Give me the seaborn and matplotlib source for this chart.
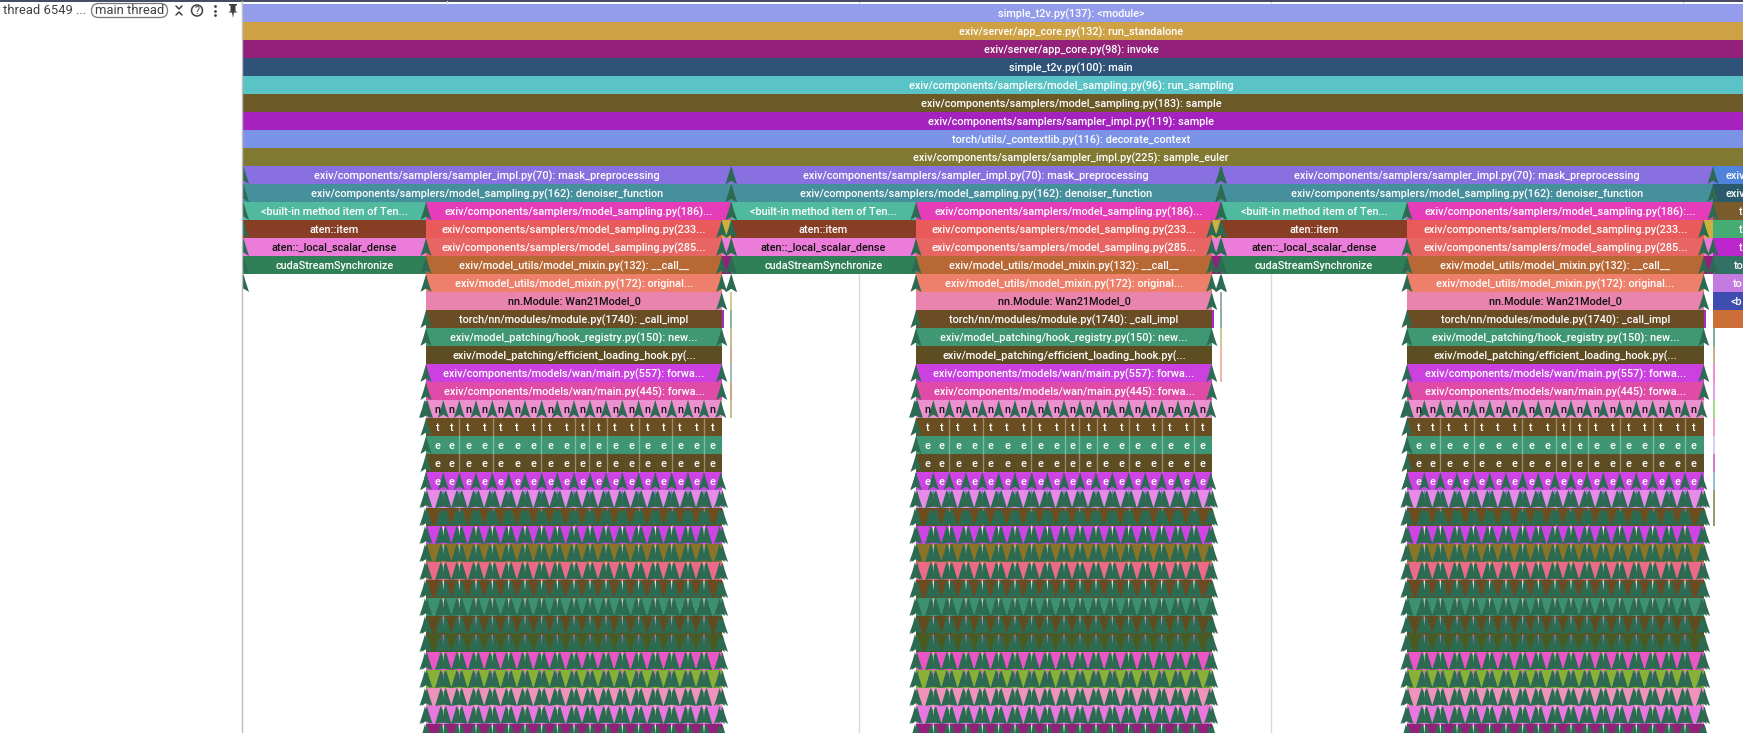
import numpy as np
import matplotlib
matplotlib.use('Agg')
import matplotlib.pyplot as plt
from matplotlib.path import Path
from matplotlib.markers import MarkerStyle
from matplotlib.patches import FancyBboxPatch, Circle, Polygon
import seaborn as sns

# whole trace rows at the top
top_labels = ['simple_t2v.py(137): <module>', 'exiv/server/app_core.py(132): run_standalone',
              'exiv/server/app_core.py(98): invoke', 'simple_t2v.py(100): main',
              'exiv/components/samplers/model_sampling.py(96): run_sampling',
              'exiv/components/samplers/model_sampling.py(183): sample',
              'exiv/components/samplers/sampler_impl.py(119): sample',
              'torch/utils/_contextlib.py(116): decorate_context',
              'exiv/components/samplers/sampler_impl.py(225): sample_euler']
top_colors = ['#939DEB', '#CDA144', '#93217B', '#2F5279', '#59C3C5', '#6B5A27', '#A622BF', '#7A93E6', '#817832']
top_start = 243
top_end = 1899

# one step = sampling part + item part
step_starts = [243, 731, 1221]
module_starts = [426, 916, 1407]
module_ends = [722, 1212, 1704]
step_ends = [731, 1221, 1713]

item_labels = ['<built-in method item of Ten...', 'aten::item', 'aten::_local_scalar_dense', 'cudaStreamSynchronize']
item_colors = ['#50BA9E', '#883D25', '#EC7CD9', '#308057']
item_text = ['white', 'white', '#111111', 'white']

module_labels = ['exiv/components/samplers/model_sampling.py(233...',
                 'exiv/components/samplers/model_sampling.py(285...',
                 'exiv/model_utils/model_mixin.py(132): __call__',
                 'exiv/model_utils/model_mixin.py(172): original...',
                 'nn.Module: Wan21Model_0',
                 'torch/nn/modules/module.py(1740): _call_impl',
                 'exiv/model_patching/hook_registry.py(150): new...',
                 'exiv/model_patching/efficient_loading_hook.py(...',
                 'exiv/components/models/wan/main.py(557): forwa...',
                 'exiv/components/models/wan/main.py(445): forwa...']
module_colors = ['#E95B5B', '#E76663', '#B86835', '#EE7F6B', '#E984AF', '#6A4D24', '#3F9873', '#5E4D22', '#CC40E0', '#E04BA8']

deep_colors = ['#EC90D0', '#694E22', '#3E9672', '#5E4C22', '#CE43E3', '#E88AE8', '#6D4D1E', '#CE44E4', '#8B7427',
               '#EA6A88', '#6D4B22', '#3D9070', '#5F4D21', '#4A5A20', '#E956C6', '#8BB038', '#EF93BD', '#E878E0', '#93217B']
deep_letters = ['n', 't', 'e', 'e', 'e']
letter_colors = ['#111111', 'white', 'white', 'white', 'white']

cell_offsets = [11.3, 25.7, 42, 58.3, 74.7, 91, 107.7, 124, 140.3, 156.7, 172.7, 189, 205.3, 221.3, 237.7, 254, 270.3, 286.7]
tree_offsets = [0, 17.3, 33.3, 50, 66.3, 82.7, 99, 115.7, 131.3, 148, 164, 180, 196.3, 212.7, 229.3, 245.7, 262, 278, 294.7]
divider_offsets = [33.3, 66.7, 115.3, 148.7, 163.3, 180.7, 212.7, 245.7, 278.3]

sliver_rows = [27, 29, 30, 31, 32, 33, 34, 35, 36, 37, 38, 39, 40]
sliver_colors = ['#5A78D0', 'white', '#E0C8A0', '#D0D0B0', 'white', '#E8D0C0', '#D8A0D0', '#D070C0', '#A8E8A8',
                 '#E070D0', '#E0C0D0', '#E0E0C0', 'white']

# the small leftovers between module end and next step
filler_rows = [12, 13, 14]
filler_colors = ['#CDB040', '#EC7CD9', '#93217B']
stripes_1 = ['#D0CE8A', '#8FB39D', '#CDBE90', '#C5B08F', '#A0BEB0', '#C5A880', '#C8BE90']
stripes_2 = ['#9DAAB8', '#8FB39D', '#CFCB90', '#F3B8A5', '#F3B8A5']
stripes_3 = ['#7FAE9A', '#C5B08F', '#EE8FC8', '#E6A0E8', '#A5DE8A', '#F0A0C8', '#D5D0F0', '#CE78D0', '#9DC0D0', '#9A9A70', '#9A9A70']

# the cut off step on the right edge
last_colors = ['#4F83DC', '#2A5A6B', '#795B2C', '#45AD74', '#BB27CC', '#337066', '#C47AE0', '#3F4DB0', '#CC6E38']
last_labels = ['exiv', 'exiv', 't', 't', 't', 'to', 'to', '<b', '']
last_text_x = [1725, 1725, 1739, 1739, 1739, 1734, 1733, 1731, 1739]

gridlines = [447, 859, 1271, 1683]
TREE = '#2C6B52'
FS = 7.85

sns.set_theme(style='white')
plt.rcParams['font.family'] = ['Roboto', 'DejaVu Sans']

fig = plt.figure(figsize=(17.43, 7.33), dpi=100)
ax = fig.add_axes([243 / 1743, 0, 1500 / 1743, 1])

arrow = MarkerStyle(Path([(0, 1), (0.25, 0.1), (0.62, -1), (0, -0.62), (-0.62, -1), (-0.25, 0.1), (0, 1)], closed=True))
# several arrows on top of each other in the lower rows
fat_tree = MarkerStyle(Path([(-0.3, 1), (0, 0.5), (0.3, 1), (0.91, -1), (0, -0.85), (-0.91, -1), (-0.3, 1)], closed=True))
sliver = MarkerStyle(Path([(-0.14, 1), (0.14, 1), (0, -1), (-0.14, 1)], closed=True))


def frame(row, start, end, color, label=None, text='white', text_x=None):
    sns.barplot(x=[end - start], y=[row], left=start, orient='y', native_scale=True, width=1,
                color=color, saturation=1, errorbar=None, edgecolor='none', linewidth=0, ax=ax)
    if label:
        if text_x is None:
            ax.text((start + end) / 2, row + 0.06, label, color=text, fontsize=FS, fontweight=500, ha='center', va='center', clip_on=True)
        else:
            ax.text(text_x, row + 0.06, label, color=text, fontsize=FS, fontweight=500, ha='left', va='center', clip_on=True)


def trees(xs, rows, size=168, marker=arrow):
    sns.scatterplot(x=xs, y=rows, marker=marker, s=size, color=TREE, edgecolor='none', linewidth=0, zorder=2, ax=ax)


for i in range(9):
    frame(i, top_start, top_end, top_colors[i], top_labels[i])

for s in range(3):
    a, m, e, b = step_starts[s], module_starts[s], module_ends[s], step_ends[s]
    frame(9, a, b, '#8870E0', 'exiv/components/samplers/sampler_impl.py(70): mask_preprocessing')
    frame(10, a, b, '#468F9C', 'exiv/components/samplers/model_sampling.py(162): denoiser_function')
    for j in range(4):
        frame(11 + j, a, m, item_colors[j], item_labels[j], item_text[j])
    label_186 = 'exiv/components/samplers/model_sampling.py(186):...' if s == 2 else 'exiv/components/samplers/model_sampling.py(186)...'
    frame(11, m, b, '#E53DBA', label_186)
    for j in range(len(module_labels)):
        frame(12 + j, m, e, module_colors[j], module_labels[j], '#111111' if j == 4 else 'white')
    for j in range(3):
        frame(filler_rows[j], e, b, filler_colors[j])
    frame(17, e, e + 1.5, '#A030C0')
    for j in range(len(deep_colors)):
        frame(22 + j, m, e, deep_colors[j])
    for j in range(5):
        for off in cell_offsets:
            ax.text(m + off, 22 + j + 0.06, deep_letters[j], color=letter_colors[j], fontsize=FS, fontweight=500, ha='center', va='center', clip_on=True)
    # faint separators in the repeated cells
    for off in divider_offsets:
        ax.vlines(m + off, 22.5, 25.5, color='white', alpha=0.35, lw=1, zorder=1.5)
        ax.vlines(m + off, 27.5, 28.5, color='white', alpha=0.3, lw=1, zorder=1.5)

    # arrows of the upper part
    trees([a + 0.5] * 7, [9, 10, 11, 12, 13, 14, 15])
    rows_m = [11, 13, 14, 15, 17, 18, 20, 21, 22, 23, 24, 25, 26]
    trees([m] * len(rows_m), rows_m)
    rows_e = [12, 13, 14, 15, 16, 18, 20, 21]
    trees([e - 0.3] * len(rows_e), rows_e)

    # rows with an arrow per cell
    trees([m + off for off in tree_offsets], [22] * len(tree_offsets))
    trees([m + off for off in tree_offsets], [26] * len(tree_offsets))
    trees([m - 1.5, m + 1.5], [22, 22])
    # below that the arrows pile up to wide trees, narrower at both ends
    for r in range(27, 41):
        xs = [m + off for off in tree_offsets[1:-1]]
        trees(xs, [r] * len(xs), marker=fat_tree)
        trees([m - 1, m + 1, e - 2.5, e + 0.5], [r] * 4)
    for k in range(len(sliver_rows)):
        xs = [m + off for off in tree_offsets[1:-1]]
        sns.scatterplot(x=xs, y=[sliver_rows[k] - 0.2] * len(xs), marker=sliver, s=50, color=sliver_colors[k],
                        edgecolor='none', linewidth=0, zorder=2.5, ax=ax)

# arrows between steps
trees([731, 731, 731, 731, 731, 731, 731], [9, 10, 11, 12, 13, 14, 15])
trees([1220.5] * 7, [9, 10, 11, 12, 13, 14, 15])
trees([1713] * 5, [9, 10, 11, 13, 14])

# thin stripes next to each module
for j in range(len(stripes_1)):
    frame(16 + j, 730, 732, stripes_1[j])
for j in range(len(stripes_2)):
    frame(16 + j, 1220, 1222, stripes_2[j])
for j in range(len(stripes_3)):
    frame(18 + j, 1713, 1714.5, stripes_3[j])

for j in range(9):
    frame(9 + j, 1713, 1800, last_colors[j], last_labels[j], 'white', last_text_x[j])

ax.vlines(gridlines, -1, 41, color='#DADADA', lw=1, zorder=0)
ax.set_xlim(243, 1743)
ax.set_ylim((733 - 4) / 18 - 0.5, -4 / 18 - 0.5)
ax.axis('off')

# header on the left
head = fig.add_axes([0, 0, 1, 1], zorder=5)
head.set_xlim(0, 1743)
head.set_ylim(733, 0)
head.axis('off')
INK = '#3C4043'
head.plot([0, 1743], [0.5, 0.5], color='#232B45', lw=1.2, solid_capstyle='butt')
head.plot([447.5, 447.5], [1, 4], color='#DADADA', lw=1)
head.plot([242.5, 242.5], [1, 733], color='#BDBDBD', lw=1)
head.text(3, 10.5, 'thread 6549 ...', color=INK, fontsize=9.4, ha='left', va='center')
head.add_patch(FancyBboxPatch((91.5, 3.5), 76, 14, boxstyle='round,pad=0,rounding_size=7', fc='white', ec='#777777', lw=0.9))
head.text(129.5, 10.5, 'main thread', color=INK, fontsize=9.4, ha='center', va='center')
head.plot([176, 179, 182], [6, 9, 6], color=INK, lw=1.1)
head.plot([176, 179, 182], [15, 12, 15], color=INK, lw=1.1)
head.add_patch(Circle((197, 10.5), 5.5, fc='white', ec=INK, lw=1.1))
head.text(197, 10.8, '?', color=INK, fontsize=7.5, ha='center', va='center')
head.scatter([215, 215, 215], [6, 10.5, 15], s=4, color=INK, linewidth=0)
head.add_patch(Polygon([(229, 4), (237, 4), (237, 5.5), (235.5, 5.5), (235.5, 11), (237.5, 12.5), (234, 12.5),
                        (233, 18), (232, 12.5), (228.5, 12.5), (230.5, 11), (230.5, 5.5), (229, 5.5)], fc=INK, ec='none'))

fig.savefig('out.png', dpi=100)
